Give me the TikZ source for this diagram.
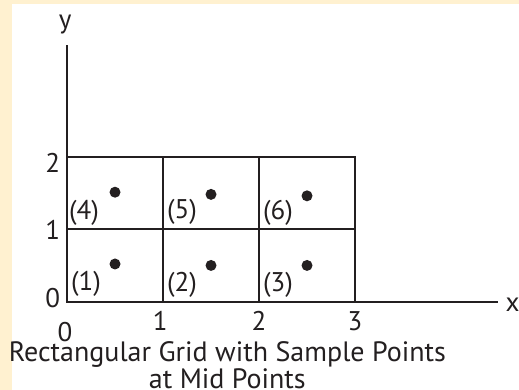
\documentclass[tikz,border=0pt]{standalone}
\usepackage{fontspec}
\setmainfont{PT Sans}
\definecolor{cream}{HTML}{FFF1D0}
\definecolor{ink}{HTML}{231F20}
\begin{document}
\begin{tikzpicture}[x=96pt,y=72.5pt,
        gridline/.style={line width=1.7pt,ink},
        lbl/.style={font=\fontsize{27}{27}\selectfont,text=ink,inner sep=0pt},
        cell/.style={lbl,anchor=west},
        sample/.style={circle,fill=ink,inner sep=0pt,minimum size=11pt}]
        % page and panel
        \fill[cream] (-0.698,-1.218) rectangle (4.708,4.161);
        \fill[white] (-0.573,-1.218) rectangle (4.708,4.106);
        \useasboundingbox (-0.698,-1.218) rectangle (4.708,4.161);
        % axes
        \coordinate (o) at (0,0);
        \coordinate (ytop) at (0,3.54);
        \coordinate (xend) at (4.49,0);
        \draw[gridline] (ytop)--(o)--(xend);
        \node[lbl] (ylab) at (-0.02,3.82) {y};
        \node[lbl] (xlab) at (4.64,-0.04) {x};
        % grid
        \draw[gridline] (0,2)--(3,2)--(3,0);
        \draw[gridline] (0,1)--(3,1);
        \draw[gridline] (1,0)--(1,2);
        \draw[gridline] (2,0)--(2,2);
        % tick labels
        \node[lbl] (y0) at (-0.15,0.05) {0};
        \node[lbl] (y1) at (-0.15,0.99) {1};
        \node[lbl] (y2) at (-0.15,1.92) {2};
        \node[lbl] (x0) at (-0.02,-0.42) {0};
        \node[lbl] (x1) at (0.97,-0.27) {1};
        \node[lbl] (x2) at (2,-0.27) {2};
        \node[lbl] (x3) at (3,-0.27) {3};
        % cell numbers and sample points
        \node[cell] (c1) at (0.04,0.25) {(1)};
        \node[cell] (c2) at (1.04,0.23) {(2)};
        \node[cell] (c3) at (2.04,0.23) {(3)};
        \node[cell] (c4) at (0.02,1.22) {(4)};
        \node[cell] (c5) at (1.04,1.24) {(5)};
        \node[cell] (c6) at (2.04,1.22) {(6)};
        \node[sample] (p1) at (0.5,0.52) {};
        \node[sample] (p2) at (1.5,0.5) {};
        \node[sample] (p3) at (2.5,0.5) {};
        \node[sample] (p4) at (0.5,1.51) {};
        \node[sample] (p5) at (1.5,1.48) {};
        \node[sample] (p6) at (2.5,1.46) {};
        % caption
        \node[lbl,font=\fontsize{28}{23}\selectfont,align=center] (cap) at (1.67,-0.88)
            {Rectangular Grid with Sample Points\\at Mid Points};
    \end{tikzpicture}
\end{document}
